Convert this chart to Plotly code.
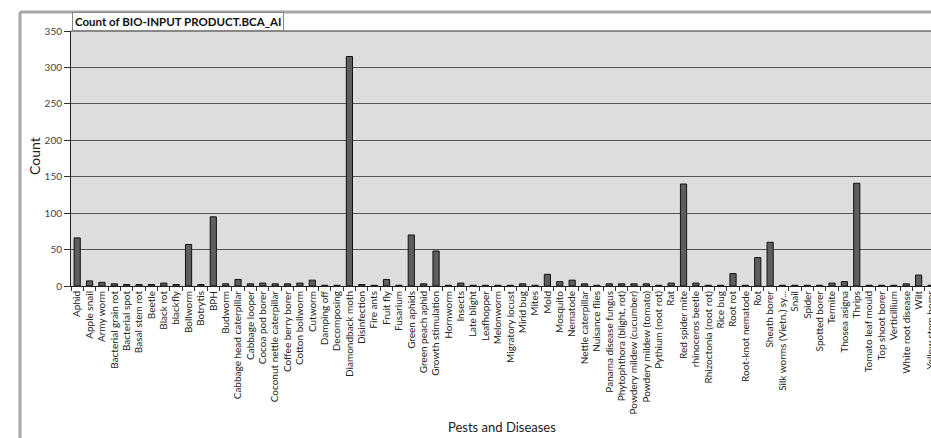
import plotly.graph_objects as go

categories = [
    "Aphid", "Apple snail", "Army worm", "Bacterial grain rot", "Bacterial spot",
    "Basal stem rot", "Beetle", "Black rot", "blackfly", "Bollworm",
    "Botrytis", "BPH", "Budworm", "Cabbage head caterpillar", "Cabbage looper",
    "Cocoa pod borer", "Coconut nettle caterpillar", "Coffee berry borer", "Cotton bollworm", "Cutworm",
    "Damping off", "Decomposing", "Diamondback moth", "Disinfection", "Fire ants",
    "Fruit fly", "Fusarium", "Green aphids", "Green peach aphid", "Growth stimulation",
    "Hornworm", "Insects", "Late blight", "Leafhopper", "Melonworm",
    "Migratory locust", "Mirid bug", "Mites", "Mold", "Mosquito",
    "Nematode", "Nettle caterpillar", "Nuisance flies", "Panama disease fungus", "Phytophthora (blight, rot)",
    "Powdery mildew (cucumber)", "Powdery mildew (tomato)", "Pythium (root rot)", "Rat", "Red spider mite",
    "rhinoceros beetle", "Rhizoctonia (root rot)", "Rice bug", "Root rot", "Root-knot nematode",
    "Rot", "Sheath borer", "Silk worms (Vietn.) sy...", "Snail", "Spider",
    "Spotted borer", "Termite", "Thosea asigna", "Thrips", "Tomato leaf mould",
    "Top shoot borer", "Verticillium", "White root disease", "Wilt", "Yellow stem borer",
]

counts = [
    66, 7, 5, 3, 2,
    2, 2, 4, 2, 57,
    2, 95, 3, 9, 3,
    4, 3, 3, 4, 8,
    1, 1, 315, 2, 1,
    9, 1, 70, 3, 48,
    1, 4, 1, 1, 1,
    1, 3, 1, 16, 6,
    8, 3, 1, 3, 3,
    3, 3, 1, 4, 140,
    4, 1, 1, 17, 1,
    39, 60, 1, 1, 1,
    1, 4, 6, 141, 1,
    1, 1, 3, 15, 1,
]

y_ticks = [0, 50, 100, 150, 200, 250, 300, 350]

W, H = 931, 438
L, R, T, B = 71, 0, 31, 152
pw = W - L - R
ph = H - T - B

def px_x(p):
    return (p - L) / pw

def px_y(p):
    return (H - B - p) / ph

fig = go.Figure()
fig.add_trace(go.Bar(
    x=categories, y=counts,
    marker=dict(color="#5e5e5e", line=dict(color="#111111", width=1)),
    width=0.5,
))

fig.update_layout(
    width=W, height=H,
    margin=dict(l=L, r=R, t=T, b=B, autoexpand=False),
    paper_bgcolor="white",
    plot_bgcolor="#dddddd",
    showlegend=False,
    font=dict(family="Lato, 'Open Sans', sans-serif", color="#222222"),
    xaxis=dict(
        type="category",
        range=[-0.5, len(categories) - 1],
        tickmode="array", tickvals=categories, ticktext=categories,
        tickangle=-90,
        tickson="boundaries",
        ticks="outside", ticklen=4, tickcolor="#333333",
        tickfont=dict(size=10, color="#222222"),
        showline=True, linecolor="#222222", linewidth=1,
        showgrid=False, zeroline=False, automargin=False,
    ),
    yaxis=dict(
        range=[0, 350],
        tickmode="array", tickvals=y_ticks,
        ticks="outside", ticklen=6, tickcolor="#333333",
        tickfont=dict(size=10, color="#444444"),
        showline=True, linecolor="#222222", linewidth=1,
        showgrid=True, gridcolor="#555555", gridwidth=1,
        zeroline=False, automargin=False,
    ),
    shapes=[
        dict(type="line", xref="paper", yref="paper",
             x0=px_x(20), x1=px_x(20), y0=px_y(12), y1=px_y(H),
             line=dict(color="#a6a6a6", width=3)),
        dict(type="line", xref="paper", yref="paper",
             x0=px_x(20), x1=px_x(W), y0=px_y(12), y1=px_y(12),
             line=dict(color="#a6a6a6", width=3)),
        dict(type="line", xref="paper", yref="paper",
             x0=0, x1=1, y0=1, y1=1,
             line=dict(color="#333333", width=1)),
    ],
    annotations=[
        dict(text="<b>Count of BIO-INPUT PRODUCT.BCA_AI</b>",
             xref="paper", yref="paper", x=px_x(72), y=1,
             xanchor="left", yanchor="bottom", showarrow=False,
             font=dict(size=11.5, color="#111111"),
             bgcolor="white", bordercolor="#888888", borderwidth=1, borderpad=2),
        dict(text="Pests and Diseases",
             xref="paper", yref="paper", x=px_x(502), y=px_y(427),
             xanchor="center", yanchor="middle", showarrow=False,
             font=dict(size=13, color="#222222")),
        dict(text="Count", textangle=-90,
             xref="paper", yref="paper", x=px_x(34), y=px_y(156),
             xanchor="center", yanchor="middle", showarrow=False,
             font=dict(size=14, color="#222222")),
    ],
)

fig.write_html("out.html", config={"displayModeBar": False},
               post_script="document.body.style.margin='0';document.body.style.overflow='hidden';")
